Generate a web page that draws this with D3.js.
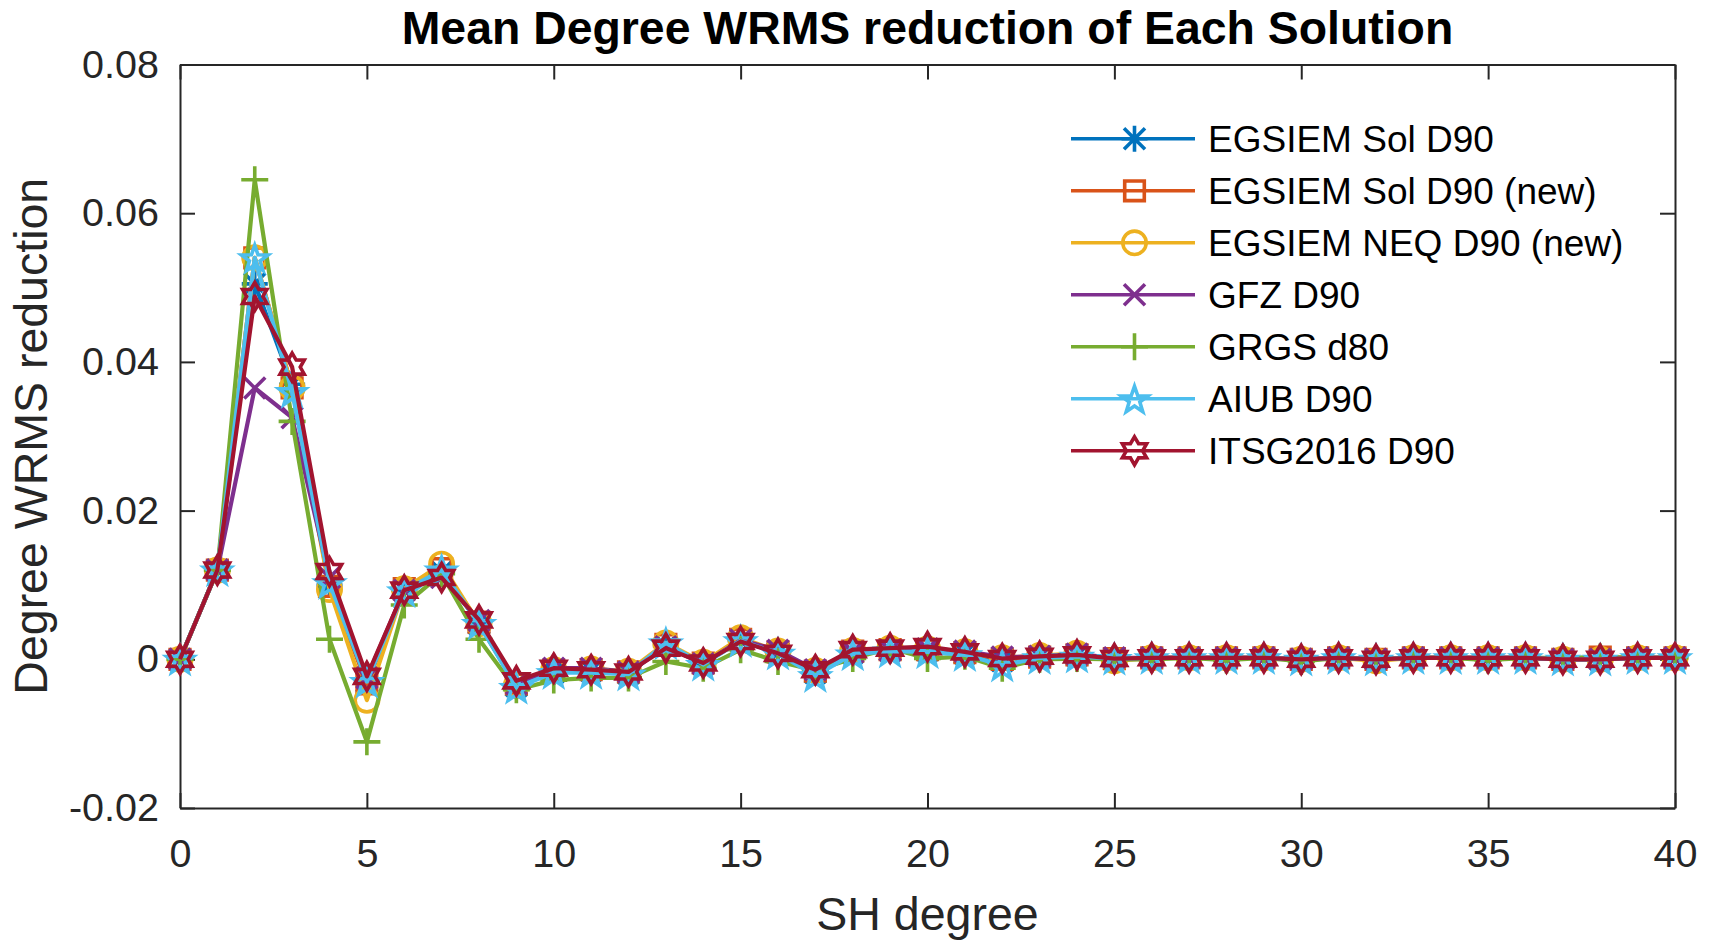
<!DOCTYPE html>
<html><head><meta charset="utf-8">
<script src="https://cdn.jsdelivr.net/npm/d3@7"></script>
<style>
html,body{margin:0;padding:0;background:#fff;}
text{font-family:"Liberation Sans",Arial,Helvetica,sans-serif;fill:#262626;}
</style></head>
<body>
<svg id="chart" width="1709" height="944"></svg>
<script>
const degrees = d3.range(0, 41);
const seriesNames = ["EGSIEM Sol D90","EGSIEM Sol D90 (new)","EGSIEM NEQ D90 (new)","GFZ D90","GRGS d80","AIUB D90","ITSG2016 D90"];
const seriesColors = ["#0072BD","#D95319","#EDB120","#7E2F8E","#77AC30","#4DBEEE","#A2142F"];
const seriesMarkers = ["asterisk","square","circle","x","plus","pentagram","hexagram"];

const egsiemSol = [0,0.012,0.0505,0.037,0.0100,-0.0030,0.0093,0.0118,0.0048,-0.0036,-0.0017,-0.0015,-0.0019,0.0018,-0.0006,0.0025,0.0009,-0.0018,0.0009,0.0012,0.0012,0.0008,-0.0002,0.0003,0.0005,0.0001,0.0002,0.0002,0.0002,0.0002,0.0000,0.0002,0.0000,0.0002,0.0002,0.0002,0.0002,0.0000,0.0000,0.0002,0.0002];
const egsiemSolNew = [0,0.012,0.0540,0.0365,0.0098,-0.0033,0.0095,0.0122,0.0050,-0.0033,-0.0015,-0.0014,-0.0017,0.0020,-0.0005,0.0027,0.0010,-0.0016,0.0011,0.0013,0.0013,0.0009,0.0000,0.0003,0.0006,0.0001,0.0002,0.0002,0.0002,0.0002,0.0000,0.0002,0.0000,0.0002,0.0002,0.0002,0.0002,0.0000,0.0003,0.0002,0.0002];
const egsiemNeqNew = [0,0.012,0.0540,0.0365,0.0094,-0.0055,0.0095,0.0128,0.0048,-0.0035,-0.0014,-0.0013,-0.0016,0.0022,-0.0004,0.0029,0.0011,-0.0015,0.0012,0.0015,0.0014,0.0010,0.0002,0.0005,0.0008,-0.0002,0.0002,0.0002,0.0002,0.0002,0.0000,0.0002,-0.0002,0.0002,0.0002,0.0002,0.0002,0.0000,0.0000,0.0002,0.0002];
const gfz = [0,0.012,0.0365,0.0325,0.0110,-0.0025,0.0093,0.0110,0.0052,-0.0033,-0.0012,-0.0012,-0.0017,0.0017,-0.0006,0.0026,0.0012,-0.0014,0.0010,0.0012,0.0014,0.0011,0.0003,0.0004,0.0007,0.0002,0.0002,0.0002,0.0002,0.0002,0.0000,0.0002,0.0000,0.0002,0.0002,0.0002,0.0002,0.0000,0.0000,0.0002,0.0002];
const grgs = [0,0.012,0.0645,0.0320,0.0027,-0.0111,0.0073,0.0115,0.0027,-0.0041,-0.0028,-0.0025,-0.0025,-0.0003,-0.0012,0.0013,-0.0003,-0.0015,0.0001,0.0015,0.0001,0.0004,-0.0012,0.0000,0.0001,0.0000,0.0000,0.0002,-0.0001,0.0002,-0.0003,0.0002,0.0000,0.0002,0.0002,-0.0001,0.0002,0.0002,0.0003,0.0002,0.0002];
const aiub = [0,0.012,0.0540,0.0360,0.0103,-0.0030,0.0092,0.0120,0.0048,-0.0038,-0.0018,-0.0018,-0.0020,0.0022,-0.0007,0.0025,0.0008,-0.0022,0.0007,0.0011,0.0010,0.0006,-0.0008,0.0002,0.0004,0.0001,0.0002,0.0002,0.0002,0.0002,0.0000,0.0002,0.0000,0.0002,0.0002,0.0002,0.0002,0.0000,0.0000,0.0002,0.0002];
const itsg = [0,0.012,0.0488,0.0393,0.0118,-0.0023,0.0093,0.0110,0.0053,-0.0029,-0.0012,-0.0014,-0.0017,0.0015,-0.0005,0.0024,0.0008,-0.0014,0.0013,0.0015,0.0017,0.0010,0.0001,0.0004,0.0006,0.0001,0.0002,0.0002,0.0002,0.0002,0.0000,0.0002,0.0000,0.0002,0.0002,0.0002,0.0002,0.0000,0.0000,0.0002,0.0002];
const seriesValues = [egsiemSol, egsiemSolNew, egsiemNeqNew, gfz, grgs, aiub, itsg];

const xTicks = [0,5,10,15,20,25,30,35,40];
const yTicks = [-0.02,0,0.02,0.04,0.06,0.08];
const yTickLabels = ["-0.02","0","0.02","0.04","0.06","0.08"];

const titleText = "Mean Degree WRMS reduction of Each Solution";
const xLabelText = "SH degree";
const yLabelText = "Degree WRMS reduction";

(function(){
const L = 180, R = 1675, T = 64.5, B = 808;
const x = d3.scaleLinear().domain([0,40]).range([L,R]);
const y = d3.scaleLinear().domain([-0.02,0.08]).range([B,T]);
const svg = d3.select("#chart");
const axisColor = "#262626";

const tickLen = 15;
const gAx = svg.append("g");
const axBottom = gAx.append("g").attr("transform",`translate(0,${B})`)
  .call(d3.axisBottom(x).tickValues(xTicks).tickSizeInner(-tickLen).tickSizeOuter(0).tickPadding(31).tickFormat(d3.format("d")));
gAx.append("g").attr("transform",`translate(0,${T})`)
  .call(d3.axisTop(x).tickValues(xTicks).tickSizeInner(-tickLen).tickSizeOuter(0).tickFormat(""));
gAx.append("g").attr("transform",`translate(${L},0)`)
  .call(d3.axisLeft(y).tickValues(yTicks).tickSizeInner(-tickLen).tickSizeOuter(0).tickPadding(21).tickFormat((d,i)=>yTickLabels[i]));
gAx.append("g").attr("transform",`translate(${R},0)`)
  .call(d3.axisRight(y).tickValues(yTicks).tickSizeInner(-tickLen).tickSizeOuter(0).tickFormat(""));
gAx.selectAll(".domain").attr("stroke",axisColor).attr("stroke-width",2);
gAx.selectAll(".tick line").attr("stroke",axisColor).attr("stroke-width",2);
gAx.selectAll(".tick text").attr("font-size",39.5).attr("fill",axisColor).style("font-family","'Liberation Sans',Arial,sans-serif");
axBottom.selectAll(".tick text").attr("dy","0.71em");

function markerPath(type){
  const p = d3.path();
  if(type==="circle"){ p.arc(0,0,11.7,0,2*Math.PI); }
  else if(type==="square"){ const s=9.8; p.rect(-s,-s,2*s,2*s); }
  else if(type==="plus"){ const r=13.5; p.moveTo(-r,0);p.lineTo(r,0);p.moveTo(0,-r);p.lineTo(0,r); }
  else if(type==="x"){ const s=10.5; p.moveTo(-s,-s);p.lineTo(s,s);p.moveTo(-s,s);p.lineTo(s,-s); }
  else if(type==="asterisk"){ const r=13, s=10.5; p.moveTo(-r,0);p.lineTo(r,0);p.moveTo(0,-r);p.lineTo(0,r);p.moveTo(-s,-s);p.lineTo(s,s);p.moveTo(-s,s);p.lineTo(s,-s); }
  else if(type==="pentagram"){
    const r=14, ri=r*0.4;
    for(let k=0;k<10;k++){const a=-Math.PI/2+k*Math.PI/5; const rr=k%2?ri:r; const px=rr*Math.cos(a), py=rr*Math.sin(a)+1.5; if(k) p.lineTo(px,py); else p.moveTo(px,py);} p.closePath();
  } else if(type==="hexagram"){
    const r=14, ri=r*0.58;
    for(let k=0;k<12;k++){const a=-Math.PI/2+k*Math.PI/6; const rr=k%2?ri:r; const px=rr*Math.cos(a), py=rr*Math.sin(a); if(k) p.lineTo(px,py); else p.moveTo(px,py);} p.closePath();
  }
  return p.toString();
}

const line = d3.line().x((d,i)=>x(degrees[i])).y(d=>y(d));
const gData = svg.append("g");
seriesValues.forEach((vals,si)=>{
  const g = gData.append("g");
  g.append("path").attr("d",line(vals)).attr("fill","none").attr("stroke",seriesColors[si]).attr("stroke-width",4.2).attr("stroke-linejoin","round");
  g.selectAll("path.m").data(vals).enter().append("path").attr("class","m")
    .attr("transform",(d,i)=>`translate(${x(degrees[i])},${y(d)})`)
    .attr("d",markerPath(seriesMarkers[si]))
    .attr("fill","none").attr("stroke",seriesColors[si]).attr("stroke-width",3.6);
});

const legX0 = 1071, legX1 = 1195, legM = 1134.5, legT = 1208, legY0 = 138.8, legDy = 52;
const gLeg = svg.append("g");
seriesNames.forEach((name,si)=>{
  const yy = legY0 + si*legDy;
  gLeg.append("line").attr("x1",legX0).attr("x2",legX1).attr("y1",yy).attr("y2",yy).attr("stroke",seriesColors[si]).attr("stroke-width",3.6);
  gLeg.append("path").attr("transform",`translate(${legM},${yy})`).attr("d",markerPath(seriesMarkers[si])).attr("fill","none").attr("stroke",seriesColors[si]).attr("stroke-width",3.6);
  gLeg.append("text").attr("x",legT).attr("y",yy).attr("dy","0.36em").attr("font-size",37).style("fill","#000").text(name);
});

svg.append("text").attr("x",(L+R)/2).attr("y",44).attr("text-anchor","middle").attr("font-size",46.4).attr("font-weight","bold").style("fill","#000").text(titleText);
svg.append("text").attr("x",(L+R)/2).attr("y",930).attr("text-anchor","middle").attr("font-size",46.5).text(xLabelText);
svg.append("text").attr("transform",`translate(47,${(T+B)/2}) rotate(-90)`).attr("text-anchor","middle").attr("font-size",46.5).text(yLabelText);
})();
</script>
</body></html>
